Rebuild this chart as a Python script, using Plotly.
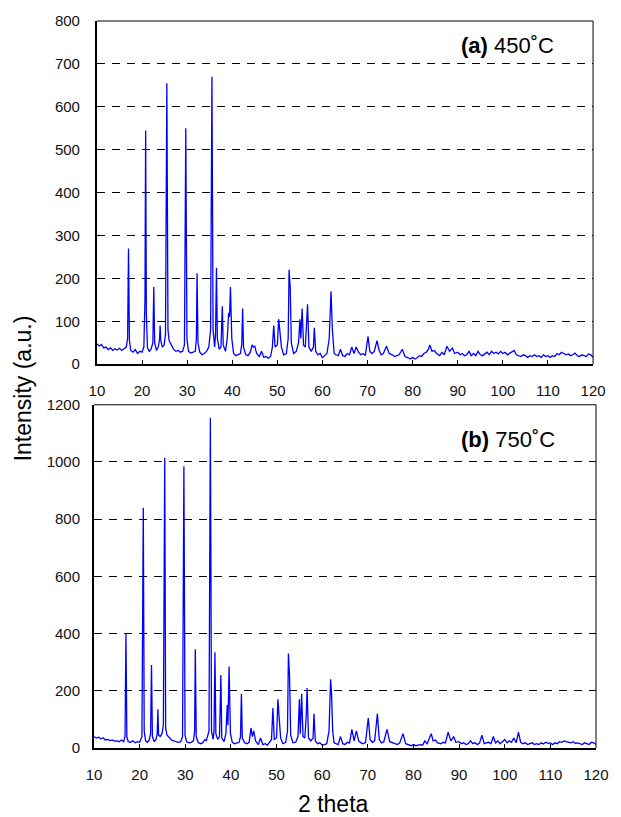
import plotly.graph_objects as go

# ---- data ----
two_theta_a = [10, 10.5, 11, 11.5, 12, 12.5, 13, 13.5, 14, 14.5, 15, 15.5, 16, 16.5,
    16.8, 17.0, 17.2, 17.5, 18, 18.5, 19, 19.5, 20, 20.4, 20.65, 20.8, 20.95, 21.2, 21.6, 22,
    22.4, 22.6, 22.8, 23.2, 23.6, 23.9, 24.0, 24.15, 24.5, 24.9, 25.2, 25.5, 25.75, 26, 26.5,
    27, 27.5, 28, 28.5, 29, 29.4, 29.7, 29.95, 30.3, 30.8, 31.3, 31.8, 32.05, 32.2, 32.4,
    32.8, 33.3, 33.8, 34.3, 34.8, 35.2, 35.5, 35.75, 36.1, 36.3, 36.5, 36.7, 37.1, 37.5,
    37.8, 38.0, 38.5, 38.9, 39.2, 39.4, 39.6, 39.9, 40.3, 40.8, 41.3, 41.8, 42.1, 42.3, 42.5,
    43, 43.5, 44, 44.4, 44.7, 45.0, 45.4, 46, 46.5, 47, 47.5, 48, 48.5, 48.9, 49.2, 49.5,
    50.0, 50.3, 50.6, 50.9, 51.4, 52, 52.4, 52.6, 52.85, 53.1, 53.6, 54.2, 54.7, 55.0, 55.2,
    55.5, 55.8, 56.2, 56.5, 56.7, 57.0, 57.5, 58.0, 58.2, 58.5, 59, 59.5, 60, 60.5, 61, 61.5,
    61.9, 62.2, 62.6, 63, 63.5, 64, 64.5, 65, 65.5, 66, 66.5, 67, 67.5, 68, 68.5, 69, 69.5,
    70.1, 70.5, 71, 71.5, 72.1, 72.5, 73, 73.5, 74.2, 74.8, 75.5, 76, 76.5, 77, 77.7, 78.3,
    79, 79.5, 80, 80.5, 81, 81.5, 82, 82.5, 83, 83.5, 83.8, 84.3, 84.8, 85.3, 86, 86.5, 87,
    87.6, 88.2, 88.8, 89.3, 90, 90.5, 91, 91.5, 92, 92.5, 93, 93.5, 94, 94.5, 95, 95.5, 96,
    96.5, 97, 97.5, 98, 98.5, 99, 99.5, 100, 100.5, 101, 101.5, 102, 102.5, 103, 103.5, 104,
    104.5, 105, 105.5, 106, 106.5, 107, 107.5, 108, 108.5, 109, 109.5, 110, 110.5, 111,
    111.5, 112, 112.5, 113, 113.5, 114, 114.5, 115, 115.5, 116, 116.5, 117, 117.5, 118,
    118.5, 119, 119.5, 120]
intensity_a = [48, 42, 46, 38, 40, 34, 38, 32, 36, 33, 37, 32, 36, 40,
    60, 270, 55, 32, 28, 34, 25, 30, 28, 40, 150, 545, 120, 38, 30, 35,
    50, 180, 50, 32, 40, 60, 90, 55, 40, 45, 70, 655, 80, 55, 45,
    35, 30, 32, 28, 30, 45, 550, 60, 30, 26, 28, 30, 60, 212, 50,
    28, 22, 25, 30, 40, 80, 670, 80, 40, 70, 225, 60, 35, 40,
    135, 45, 30, 60, 120, 110, 180, 60, 25, 20, 22, 25, 45, 130, 40,
    22, 20, 28, 45, 40, 42, 25, 18, 30, 16, 18, 14, 18, 40, 90, 40,
    45, 105, 70, 40, 22, 25, 60, 220, 180, 50, 25, 30, 50, 105, 60,
    130, 45, 40, 100, 140, 40, 30, 40, 85, 30, 22, 25, 15, 20, 25, 60,
    170, 80, 25, 22, 20, 35, 20, 18, 25, 22, 40, 25, 40, 28, 22, 25, 20,
    65, 30, 25, 30, 55, 35, 22, 25, 42, 25, 22, 18, 20, 22, 35, 18,
    15, 12, 16, 12, 15, 20, 18, 25, 28, 35, 45, 30, 32, 25, 20, 28, 22,
    42, 30, 38, 25, 28, 22, 25, 20, 22, 30, 20, 25, 20, 30, 22, 20, 25,
    28, 22, 30, 25, 28, 24, 30, 25, 28, 22, 25, 28, 32, 22, 20, 18,
    22, 20, 16, 20, 18, 22, 18, 20, 16, 22, 18, 20, 16, 20,
    18, 25, 22, 28, 25, 22, 24, 20, 22, 26, 20, 18, 22, 20,
    18, 24, 22, 16]

two_theta_b = [10, 10.5, 11, 11.5, 12, 12.5, 13, 13.5, 14, 14.5, 15, 15.5, 16, 16.5,
    16.8, 17.0, 17.2, 17.5, 18, 18.5, 19, 19.5, 20, 20.5, 20.8, 21, 21.3, 21.7, 22.1,
    22.4, 22.6, 22.8, 23.2, 23.6, 23.85, 24.0, 24.15, 24.5, 24.9, 25.2, 25.5, 25.7, 26,
    26.5, 27, 27.5, 28, 28.5, 29, 29.4, 29.7, 29.95, 30.3, 30.8, 31.3, 31.8, 32.05, 32.2,
    32.4, 32.8, 33.3, 33.8, 34.3, 34.6, 35.2, 35.5, 35.75, 36.1, 36.3, 36.5, 36.7, 37.1,
    37.5, 37.8, 38.0, 38.5, 38.9, 39.2, 39.35, 39.6, 39.9, 40.3, 40.8, 41.3, 41.8, 42.1,
    42.3, 42.5, 43, 43.5, 44, 44.4, 44.7, 45.0, 45.4, 46, 46.5, 47, 47.5, 48, 48.5, 48.9,
    49.2, 49.5, 50.0, 50.3, 50.6, 50.9, 51.4, 52, 52.4, 52.6, 52.85, 53.1, 53.6, 54.2,
    54.7, 55.0, 55.2, 55.5, 55.8, 56.2, 56.5, 56.7, 57.0, 57.5, 58.0, 58.2, 58.5, 59, 59.5,
    60, 60.5, 61, 61.5, 61.85, 62.05, 62.3, 62.6, 63, 63.5, 64, 64.5, 65, 65.5, 66, 66.5,
    67, 67.5, 68, 68.5, 69, 69.5, 70.1, 70.5, 71, 71.5, 72.1, 72.5, 73, 73.5, 74.2, 74.8,
    75.5, 76, 76.5, 77, 77.7, 78.3, 79, 79.5, 80, 80.5, 81, 81.5, 82, 82.5, 83, 83.5, 83.9,
    84.3, 84.8, 85.3, 86, 86.5, 87, 87.6, 88.2, 88.8, 89.3, 90, 90.5, 91, 91.5, 92, 92.5,
    93, 93.5, 94, 94.5, 95, 95.5, 96, 96.5, 97, 97.5, 98, 98.5, 99, 99.5, 100, 100.5, 101,
    101.5, 102, 102.5, 103, 103.5, 104, 104.5, 105, 105.5, 106, 106.5, 107, 107.5, 108,
    108.5, 109, 109.5, 110, 110.5, 111, 111.5, 112, 112.5, 113, 113.5, 114, 114.5, 115,
    115.5, 116, 116.5, 117, 117.5, 118, 118.5, 119, 119.5, 120]
intensity_b = [40, 35, 38, 32, 36, 28, 30, 26, 28, 24, 25, 22, 28, 22,
    40, 400, 40, 22, 20, 25, 18, 22, 20, 40, 840, 60, 25, 20, 28,
    50, 290, 40, 22, 30, 50, 135, 45, 40, 50, 80, 1015, 70, 45,
    35, 28, 25, 22, 20, 22, 40, 985, 45, 22, 18, 20, 25, 60, 345,
    40, 20, 15, 18, 30, 25, 60, 1155, 60, 30, 60, 335, 50, 30,
    40, 255, 35, 22, 50, 150, 80, 285, 50, 20, 15, 18, 20, 40,
    190, 35, 18, 15, 20, 70, 40, 60, 25, 12, 35, 12, 15, 10, 20, 30,
    140, 30, 35, 170, 100, 35, 15, 20, 60, 330, 250, 45, 18, 20,
    40, 170, 50, 190, 40, 35, 110, 210, 35, 25, 35, 120, 25, 15, 18,
    10, 12, 15, 60, 240, 190, 60, 18, 15, 12, 40, 15, 12, 20, 18, 65,
    25, 60, 25, 18, 15, 20, 105, 30, 20, 25, 120, 30, 18, 22, 65, 22,
    18, 15, 12, 18, 50, 15, 10, 8, 12, 8, 10, 12, 10, 25, 15, 35, 50,
    25, 28, 18, 15, 20, 18, 55, 25, 40, 20, 22, 15, 18, 12, 15, 25,
    15, 18, 12, 18, 45, 15, 18, 20, 15, 40, 18, 25, 15, 22, 30, 18, 25,
    20, 35, 18, 55, 20, 15, 18, 12, 15, 18, 12, 15, 12, 18,
    14, 20, 16, 18, 12, 18, 15, 22, 20, 25, 22, 20, 18, 22,
    16, 18, 15, 12, 18, 15, 12, 20, 18, 12]

x_ticks = [10, 20, 30, 40, 50, 60, 70, 80, 90, 100, 110, 120]
y_ticks_a = [0, 100, 200, 300, 400, 500, 600, 700, 800]
y_ticks_b = [0, 200, 400, 600, 800, 1000, 1200]
label_a = "<b>(a)</b> 450˚C"
label_b = "<b>(b)</b> 750˚C"
x_title = "2 theta"
y_title = "Intensity (a.u.)"

# ---- figure ----
W, H = 621, 817
ML, MR, MT, MB = 94, 15, 13, 69
PW, PH = W - ML - MR, H - MT - MB

def px_x(p):
    return (p - ML) / PW

def px_y(p):
    return (H - MB - p) / PH

FONT = "Liberation Sans, Arial, Helvetica, sans-serif"
LINE = "#0000FF"

fig = go.Figure()
fig.add_trace(go.Scatter(x=two_theta_a, y=intensity_a, mode="lines",
                         line=dict(color=LINE, width=1.3), xaxis="x", yaxis="y",
                         showlegend=False, hoverinfo="skip"))
fig.add_trace(go.Scatter(x=two_theta_b, y=intensity_b, mode="lines",
                         line=dict(color=LINE, width=1.3), xaxis="x2", yaxis="y2",
                         showlegend=False, hoverinfo="skip"))

common_x = dict(range=[10, 120], tickvals=x_ticks, ticks="inside", ticklen=4,
                tickwidth=1, tickcolor="black", showgrid=False, zeroline=False,
                showline=True, linecolor="black", linewidth=2,
                tickfont=dict(family=FONT, size=15, color="#111"))
common_y = dict(showgrid=True, gridcolor="black", gridwidth=1, griddash="8px,7px",
                zeroline=False, showline=True, linecolor="black", linewidth=2,
                ticks="outside", tickcolor="rgba(0,0,0,0)",
                tickfont=dict(family=FONT, size=15, color="#111"))

fig.update_layout(
    width=W, height=H,
    margin=dict(l=ML, r=MR, t=MT, b=MB),
    paper_bgcolor="white", plot_bgcolor="white",
    xaxis=dict(domain=[px_x(97), px_x(603)], anchor="y", ticklabelstandoff=12, **common_x),
    yaxis=dict(domain=[px_y(360), px_y(13)], anchor="x", range=[0, 800],
               tickvals=y_ticks_a, ticklen=12, **common_y),
    xaxis2=dict(domain=[px_x(94), px_x(606)], anchor="y2", ticklabelstandoff=12, **common_x),
    yaxis2=dict(domain=[px_y(748), px_y(401)], anchor="x2", range=[0, 1200],
                tickvals=y_ticks_b, ticklen=9, **common_y),
)

# thin top/right frame lines
for xr, yr in (("x domain", "y domain"), ("x2 domain", "y2 domain")):
    fig.add_shape(type="line", xref=xr, yref=yr, x0=0, x1=1, y0=1, y1=1,
                  line=dict(color="black", width=1))
    fig.add_shape(type="line", xref=xr, yref=yr, x0=1, x1=1, y0=0, y1=1,
                  line=dict(color="black", width=1))

fig.add_annotation(text=label_a, xref="paper", yref="paper", x=px_x(466), y=px_y(38),
                   xanchor="left", yanchor="middle", showarrow=False,
                   font=dict(family=FONT, size=22, color="black"))
fig.add_annotation(text=label_b, xref="paper", yref="paper", x=px_x(466), y=px_y(436),
                   xanchor="left", yanchor="middle", showarrow=False,
                   font=dict(family=FONT, size=22, color="black"))
fig.add_annotation(text=y_title, xref="paper", yref="paper", x=px_x(22), y=px_y(384),
                   xanchor="center", yanchor="middle", textangle=-90, showarrow=False,
                   font=dict(family=FONT, size=23, color="black"))
fig.add_annotation(text=x_title, xref="paper", yref="paper", x=px_x(338), y=px_y(805),
                   xanchor="center", yanchor="middle", showarrow=False,
                   font=dict(family=FONT, size=23, color="black"))

fig.write_html("out.html")
